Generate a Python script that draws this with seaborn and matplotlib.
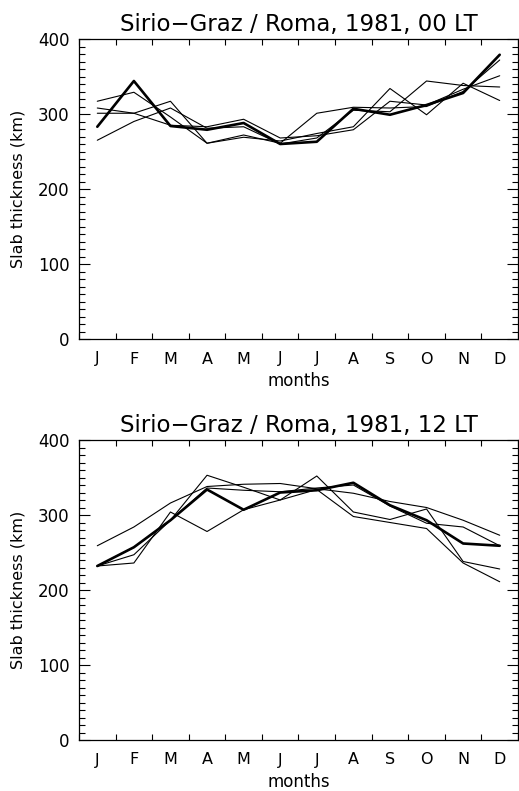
import numpy as np
import pandas as pd
import matplotlib
matplotlib.use("Agg")
import matplotlib.pyplot as plt
import matplotlib.ticker as mticker
import seaborn as sns

sns.set_theme(style="ticks")
plt.rcParams['font.family'] = ['DejaVu Sans']

month_labels = ["J", "F", "M", "A", "M", "J", "J", "A", "S", "O", "N", "D"]
months = list(range(1, 13))

# 00 LT panel
top_thick = [283, 344, 284, 279, 288, 260, 263, 307, 299, 312, 328, 379]
top_thin1 = [317, 329, 296, 261, 269, 264, 274, 283, 334, 299, 341, 318]
top_thin2 = [308, 301, 285, 283, 293, 268, 271, 279, 317, 312, 333, 351]
top_thin3 = [301, 301, 317, 261, 272, 261, 301, 309, 308, 310, 330, 372]
top_thin4 = [265, 290, 308, 281, 283, 260, 268, 305, 303, 344, 338, 336]

# 12 LT panel
bot_thick = [232, 257, 293, 334, 307, 330, 333, 343, 313, 293, 262, 259]
bot_thin1 = [259, 284, 316, 338, 341, 342, 335, 329, 318, 310, 293, 273]
bot_thin2 = [232, 247, 293, 353, 337, 320, 352, 304, 294, 308, 238, 228]
bot_thin3 = [232, 236, 304, 278, 307, 320, 334, 298, 290, 282, 236, 211]
bot_thin4 = [232, 257, 293, 336, 333, 331, 336, 340, 312, 289, 284, 259]

titles = ["Sirio\u2212Graz / Roma, 1981, 00 LT", "Sirio\u2212Graz / Roma, 1981, 12 LT"]
panels = [
    (top_thick, [top_thin1, top_thin2, top_thin3, top_thin4]),
    (bot_thick, [bot_thin1, bot_thin2, bot_thin3, bot_thin4]),
]

W, H = 519, 791
fig = plt.figure(figsize=(W / 100, H / 100), dpi=100)
ax_rects = [
    [79 / W, 1 - 339 / H, 439 / W, 300 / H],
    [79 / W, 1 - 740 / H, 439 / W, 300 / H],
]

for rect, title, (thick, thins) in zip(ax_rects, titles, panels):
    ax = fig.add_axes(rect)
    for s in thins:
        df = pd.DataFrame({"month": months, "value": s})
        sns.lineplot(data=df, x="month", y="value", ax=ax, color="black",
                     linewidth=0.8, estimator=None)
    df = pd.DataFrame({"month": months, "value": thick})
    sns.lineplot(data=df, x="month", y="value", ax=ax, color="black",
                 linewidth=1.9, estimator=None)

    ax.set_xlim(0.5, 12.5)
    ax.set_ylim(0, 400)
    ax.xaxis.set_major_locator(mticker.FixedLocator(np.arange(0.5, 13, 1.0)))
    ax.xaxis.set_major_formatter(mticker.NullFormatter())
    ax.xaxis.set_minor_locator(mticker.FixedLocator(months))
    ax.xaxis.set_minor_formatter(mticker.FixedFormatter(month_labels))
    ax.tick_params(axis="x", which="major", direction="in", length=4,
                   width=0.8, top=True, bottom=True, color="black")
    ax.tick_params(axis="x", which="minor", length=0, pad=9,
                   labelsize=11.5, labelcolor="black")
    ax.yaxis.set_major_locator(mticker.MultipleLocator(100))
    ax.yaxis.set_minor_locator(mticker.MultipleLocator(10))
    ax.tick_params(axis="y", which="major", direction="in", length=8,
                   width=0.8, left=True, right=True, labelsize=12, pad=7,
                   labelcolor="black", color="black")
    ax.tick_params(axis="y", which="minor", direction="in", length=4,
                   width=0.8, left=True, right=True, color="black")
    for sp in ax.spines.values():
        sp.set_color("black")
        sp.set_linewidth(0.9)
        sp.set_visible(True)
    ax.set_xlabel("months", fontsize=12, color="black", labelpad=4)
    ax.set_ylabel("Slab thickness (km)", fontsize=11.5, color="black", labelpad=9)
    ax.set_title(title, fontsize=16.5, color="black", pad=6)

fig.savefig("out.png", dpi=100)
